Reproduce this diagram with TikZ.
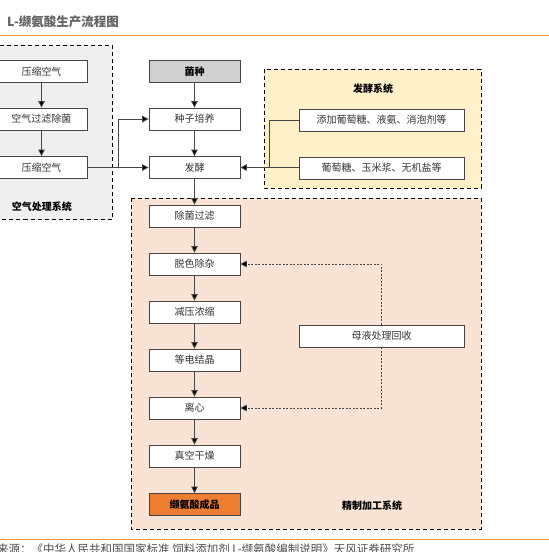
\documentclass[tikz,border=0pt]{standalone}
\usepackage{fontspec}
\newfontfamily\cjk{Noto Sans CJK SC}
\usetikzlibrary{arrows.meta}
\definecolor{airfill}{HTML}{EFEFEF}
\definecolor{fermfill}{HTML}{FFF0C9}
\definecolor{refill}{HTML}{F9E3D5}
\definecolor{rule}{HTML}{E8954A}
\definecolor{prod}{HTML}{ED7D31}
\definecolor{seed}{HTML}{D0D0D0}
\definecolor{edge}{HTML}{454545}
\definecolor{txt}{HTML}{333333}
\tikzset{
  procbox/.style={draw=edge, line width=0.8pt, fill=white, minimum width=91pt, minimum height=22pt, inner sep=0pt, text=txt, font=\cjk\fontsize{10}{12}\selectfont},
  sysarea/.style={draw=black, line width=0.9pt, dash pattern=on 4pt off 3pt},
  syslabel/.style={font=\cjk\bfseries\fontsize{10}{12}\selectfont, text=black, inner sep=0pt},
  arr/.style={draw=edge, line width=0.8pt, -{Triangle[length=6.5pt,width=6.5pt,fill=black]}},
  plainline/.style={draw=edge, line width=0.8pt},
  dotarr/.style={draw=edge, line width=0.6pt, dash pattern=on 2pt off 1.5pt, -{Triangle[length=6.5pt,width=6.5pt,fill=black]}}
}
\begin{document}
\begin{tikzpicture}[x=1pt,y=-1pt]
\useasboundingbox (0,0) rectangle (549,552);
\clip (0,0) rectangle (549,552);
\fill[white] (0,0) rectangle (549,552);
% title and rules
\node[anchor=west, inner sep=0pt, font=\cjk\bfseries\fontsize{12.5}{14}\selectfont, text=black!62] (title) at (7,22) {L-缬氨酸生产流程图};
\draw[rule, line width=1pt] (0,35.5) -- (549,35.5);
\draw[rule, line width=1pt] (0,539.5) -- (549,539.5);
\node[anchor=west, inner sep=0pt, font=\cjk\fontsize{11.5}{13}\selectfont, text=black!70] (src) at (-26,549) {资料来源：《中华人民共和国国家标准 饲料添加剂 L-缬氨酸编制说明》天风证券研究所};
% system areas
\path[sysarea, fill=airfill] (-5,45) rectangle (112,219.5);
\path[sysarea, fill=fermfill] (264,69) rectangle (481,188);
\path[sysarea, fill=refill] (131,198) rectangle (481,529);
\node[syslabel] (airlab) at (42,207) {空气处理系统};
\node[syslabel] (fermlab) at (373,89) {发酵系统};
\node[syslabel] (reflab) at (372,506) {精制加工系统};
% air system boxes
\node[procbox] (ya1) at (41.5,71.5) {压缩空气};
\node[procbox] (gl) at (41.5,119) {空气过滤除菌};
\node[procbox] (ya2) at (41.5,167.5) {压缩空气};
% main column
\node[procbox, fill=seed, font=\cjk\bfseries\fontsize{10}{12}\selectfont, text=black] (jz) at (194.5,71.5) {菌种};
\node[procbox] (zz) at (194.5,119) {种子培养};
\node[procbox] (fj) at (194.5,167.5) {发酵};
\node[procbox] (cj) at (194.5,216) {除菌过滤};
\node[procbox] (ts) at (194.5,264) {脱色除杂};
\node[procbox] (jy) at (194.5,312) {减压浓缩};
\node[procbox] (dd) at (194.5,360) {等电结晶};
\node[procbox] (lx) at (194.5,408) {离心};
\node[procbox] (zk) at (194.5,456) {真空干燥};
\node[procbox, fill=prod, font=\cjk\bfseries\fontsize{10}{12}\selectfont, text=black] (cp) at (194.5,504.5) {缬氨酸成品};
% fermentation system boxes
\node[procbox, minimum width=165pt] (tj1) at (381.5,120) {添加葡萄糖、液氨、消泡剂等};
\node[procbox, minimum width=165pt] (tj2) at (381.5,168) {葡萄糖、玉米浆、无机盐等};
% mother liquor
\node[procbox, minimum width=165pt] (my) at (381.5,336) {母液处理回收};
% connectors
\draw[arr] (ya1) -- (gl);
\draw[arr] (gl) -- (ya2);
\draw[arr] (jz) -- (zz);
\draw[arr] (zz) -- (fj);
\draw[arr] (fj) -- (cj);
\draw[arr] (cj) -- (ts);
\draw[arr] (ts) -- (jy);
\draw[arr] (jy) -- (dd);
\draw[arr] (dd) -- (lx);
\draw[arr] (lx) -- (zk);
\draw[arr] (zk) -- (cp);
\coordinate (airj) at (118,167.5);
\draw[arr] (ya2.east) -- (fj.west);
\draw[arr] (airj) |- (zz.west);
\coordinate (fmj) at (269.5,167.5);
\draw[arr] (tj2.west |- fj.east) -- (fj.east);
\draw[plainline] (tj1.west) -| (fmj);
\draw[dotarr] (my.north) |- (ts.east);
\draw[dotarr] (my.south) |- (lx.east);
\end{tikzpicture}
\end{document}
